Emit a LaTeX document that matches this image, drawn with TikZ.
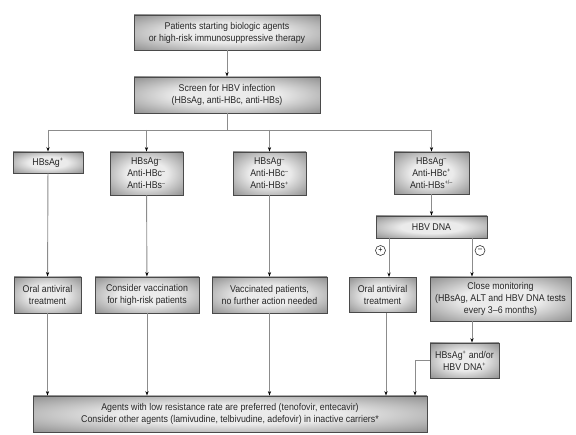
\documentclass[tikz,border=0pt]{standalone}
\usepackage{fontspec}
\setmainfont[FakeStretch=0.9]{Liberation Sans}
\usetikzlibrary{arrows.meta,calc}
\definecolor{edge}{HTML}{4A4A4A}
\definecolor{boxout}{HTML}{626262}
\definecolor{boxmid}{HTML}{8E8E8E}
\definecolor{boxin}{HTML}{EBEBEB}
\definecolor{conn}{HTML}{8C8C8C}
\pgfdeclareradialshading{boxshade}{\pgfpoint{0bp}{0bp}}{color(0bp)=(boxin); color(14bp)=(boxin); color(36bp)=(boxmid); color(50bp)=(boxout); color(100bp)=(boxout)}
\newcommand{\supp}[1]{\textsuperscript{\fontsize{6}{6}\selectfont #1}}
\tikzset{
  box/.style={draw=edge, line width=0.9pt, shading=boxshade,
    align=center, font=\fontsize{9.8}{12}\selectfont, inner sep=0pt,
    text=black!85},
  conn/.style={draw=conn, line width=0.9pt},
  arr/.style={conn, -{Stealth[length=4.5pt,width=3.2pt,color=black]}},
  sign/.style={circle, draw=black!80, line width=0.6pt, minimum size=10pt, inner sep=0pt,
    font=\fontsize{8}{8}\selectfont}
}
\begin{document}
\begin{tikzpicture}[x=1pt,y=-1pt]
\useasboundingbox (0,0) rectangle (576,435);
\node[box, minimum width=186pt, minimum height=35pt] (top) at (227,32.5)
  {Patients starting biologic agents\\or high-risk immunosuppressive therapy};
\node[box, minimum width=186pt, minimum height=36pt] (screen) at (227,95)
  {Screen for HBV infection\\(HBsAg, anti-HBc, anti-HBs)};
\node[box, minimum width=70pt, minimum height=21pt] (b1) at (48,162.5)
  {HBsAg\supp{+}};
\node[box, minimum width=73pt, minimum height=43pt] (b2) at (146.5,173.5)
  {HBsAg\supp{--}\\Anti-HBc\supp{--}\\Anti-HBs\supp{--}};
\node[box, minimum width=73pt, minimum height=43pt] (b3) at (269.5,173.5)
  {HBsAg\supp{--}\\Anti-HBc\supp{--}\\Anti-HBs\supp{+}};
\node[box, minimum width=75pt, minimum height=42pt] (b4) at (431.5,173)
  {HBsAg\supp{--}\\Anti-HBc\supp{+}\\Anti-HBs\supp{+/--}};
\node[box, minimum width=111pt, minimum height=22pt] (dna) at (431.5,227) {HBV DNA};
\node[box, minimum width=67pt, minimum height=36pt] (o1) at (47.5,295)
  {Oral antiviral\\treatment};
\node[box, minimum width=104pt, minimum height=36pt] (vac) at (147,295)
  {Consider vaccination\\for high-risk patients};
\node[box, minimum width=115pt, minimum height=36pt] (vacd) at (269.5,295)
  {Vaccinated patients,\\no further action needed};
\node[box, minimum width=67pt, minimum height=35pt] (o2) at (382.5,295)
  {Oral antiviral\\treatment};
\node[box, minimum width=141pt, minimum height=44pt] (mon) at (500.5,299)
  {Close monitoring\\(HBsAg, ALT and HBV DNA tests\\every 3--6 months)};
\node[box, minimum width=69pt, minimum height=35pt] (pos) at (464.5,360.5)
  {HBsAg\supp{+} and/or\\HBV DNA\supp{+}};
\node[box, minimum width=394pt, minimum height=36pt] (bot) at (230,414)
  {Agents with low resistance rate are preferred (tenofovir, entecavir)\\
   Consider other agents (lamivudine, telbivudine, adefovir) in inactive carriers*};
\node[sign] (plus) at (380.5,250.5) {+};
\node[sign] (minus) at (480,250.5) {--};
% connectors
\coordinate (split) at (227,130);
\draw[arr] (top) -- (screen);
\draw[conn] (screen) -- (split);
\draw[conn] (b1.north |- split) -- (b4.north |- split);
\draw[arr] (b1.north |- split) -- (b1.north);
\draw[arr] (b2.north |- split) -- (b2.north);
\draw[arr] (b3.north |- split) -- (b3.north);
\draw[arr] (b4.north |- split) -- (b4.north);
\draw[arr] (b4) -- (dna);
\coordinate (dp) at (389,0);
\coordinate (dm) at (472,0);
\draw[arr] (dna.south -| dp) -- (o2.north -| dp);
\draw[arr] (dna.south -| dm) -- (mon.north -| dm);
\draw[arr] (mon.south -| dm) -- (pos.north -| dm);
\draw[arr] (b1) -- (o1);
\draw[arr] (b2) -- (vac);
\draw[arr] (b3) -- (vacd);
\draw[arr] (o1) -- (o1.south |- bot.north);
\draw[arr] (vac) -- (vac.south |- bot.north);
\draw[arr] (vacd) -- (vacd.south |- bot.north);
\coordinate (op) at (386,0);
\draw[arr] (o2.south -| op) -- (bot.north -| op);
\coordinate (pl) at (415,0);
\draw[arr] (pos.west) -| (bot.north -| pl);
\end{tikzpicture}
\end{document}
